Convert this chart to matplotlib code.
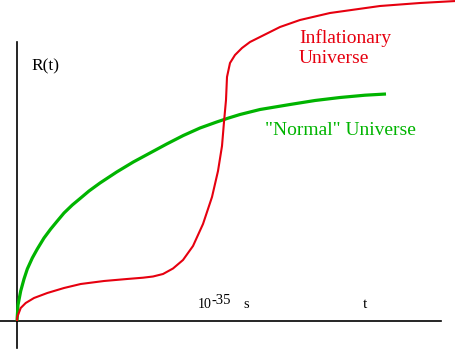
import matplotlib
matplotlib.use("Agg")
import matplotlib.pyplot as plt

# Normal universe R(t) (t, R in picture units)
normal_t = [0, 1, 3.7, 7, 10.3, 15.3, 20.3, 27, 33.7, 40.3, 47, 55.3, 63.7, 72,
            83, 99.7, 116.3, 133, 149.7, 166.3, 183, 199.7, 211, 223, 243, 273,
            298, 323, 348, 369]
normal_R = [0, 16, 30, 42, 52, 63, 72, 83, 92, 100, 108, 116, 123, 130,
            138, 149, 159, 168, 177, 185.5, 193, 199, 202.8, 206.5, 211.5, 216.5,
            220.5, 223.5, 225.8, 227]

# Inflationary universe R(t)
infl_t = [0, 0.3, 3.7, 8.7, 17, 30.3, 47, 63.7, 87, 110, 126, 136, 146, 156,
          166, 176, 186, 195, 201, 205, 207, 209, 210, 213, 218, 225, 233, 243,
          263, 283, 313, 363, 403, 439]
infl_R = [0, 4, 13, 18, 23, 28, 33, 37, 40, 42, 43.3, 44.5, 47, 52.5,
          61, 75, 97, 124, 150, 175, 199, 221, 244, 258, 266, 273, 279, 284,
          294, 301, 308, 315, 318, 320]

GREEN = "#00b400"
RED = "#e6000f"

fig = plt.figure(figsize=(4.56, 3.61), dpi=100)
ax = fig.add_axes([0, 0, 1, 1])
ax.set_xlim(-17, 439)
ax.set_ylim(-40, 321)

ax.plot(normal_t, normal_R, color=GREEN, lw=2.3, solid_capstyle="butt",
        solid_joinstyle="round")
ax.plot(infl_t, infl_R, color=RED, lw=1.5, solid_capstyle="butt",
        solid_joinstyle="round")

for s in ["top", "right"]:
    ax.spines[s].set_visible(False)
ax.spines["left"].set_position(("data", 0))
ax.spines["bottom"].set_position(("data", 0))
ax.spines["left"].set_bounds(-27, 279)
ax.spines["bottom"].set_bounds(-17, 424)
for s in ["left", "bottom"]:
    ax.spines[s].set_linewidth(1.2)
    ax.spines[s].set_zorder(0)
ax.set_xticks([])
ax.set_yticks([])
ax.patch.set_alpha(0)

serif = "Liberation Serif"
ax.text(14.7, 251, "R(t)", family=serif, fontsize=12.5, va="baseline", ha="left")
ax.text(181, 13, "10", family=serif, fontsize=10, va="baseline", ha="left")
ax.text(195, 17.5, "-35", family=serif, fontsize=10.5, va="baseline", ha="left")
ax.text(226, 13, "s", family=serif, fontsize=10.5, va="baseline", ha="left")
ax.text(346, 13, "t", family=serif, fontsize=11, va="baseline", ha="left")
ax.text(282, 277.7, "Inflationary", family=serif, fontsize=14,
        color=RED, va="baseline", ha="left")
ax.text(282, 258.3, "Universe", family=serif, fontsize=14,
        color=RED, va="baseline", ha="left")
ax.text(248, 186, "\"Normal\" Universe", family=serif, fontsize=14,
        color=GREEN, va="baseline", ha="left")

fig.savefig("out.png", dpi=100)
